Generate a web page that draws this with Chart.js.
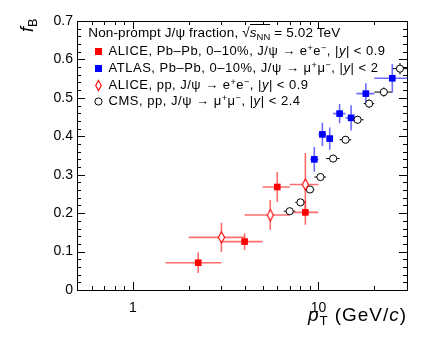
<!DOCTYPE html>
<html>
<head>
<meta charset="utf-8">
<script src="https://cdn.jsdelivr.net/npm/chart.js@4"></script>
<style>
  body { margin: 0; background: #fff; }
  #wrap { position: relative; width: 432px; height: 338px; font-family: 'Liberation Sans', Arial, Helvetica, sans-serif; color: #000; }
  canvas { position: absolute; left: 0; top: 0; }
  #legend { position: absolute; left: 88px; top: 25px; font-size: 13px; }
  #legend .row { position: relative; height: 16.7px; line-height: 16.7px; white-space: nowrap; }
  #legend .head { margin-bottom: 1.7px; font-size: 13.5px; }
  #legend .row svg { position: absolute; left: 5px; top: 2px; }
  #legend .txt { margin-left: 20.5px; }
  #legend .head .txt { margin-left: 0.3px; }
  sup, sub { font-size: 70%; line-height: 0; position: relative; vertical-align: baseline; }
  sup { top: -0.45em; }
  sub { top: 0.3em; }
  .ov { border-top: 1px solid #000; }
  #ytitle { position: absolute; left: 17px; top: 32px; transform-origin: 0 0; transform: rotate(-90deg); font-size: 18px; line-height: 20px; white-space: nowrap; }
  #xtitle { position: absolute; right: 25px; top: 305px; font-size: 19px; line-height: 19px; white-space: nowrap; }
</style>
</head>
<body>
<div id="wrap">
  <canvas id="fb" width="432" height="338"></canvas>
  <div id="legend">
    <div class="row head"><span class="txt" data-w="252">Non-prompt J/ψ fraction, √<span class="ov"><i>s</i><sub>NN</sub></span> = 5.02 TeV</span></div>
    <div class="row"><svg width="11" height="13"><rect x="2" y="3" width="7" height="7" fill="#ff0000"/></svg><span class="txt" data-w="277">ALICE, Pb–Pb, 0–10%, J/ψ → e<sup>+</sup>e<sup>−</sup>, |<i>y</i>| &lt; 0.9</span></div>
    <div class="row"><svg width="11" height="13"><rect x="2" y="3" width="7" height="7" fill="#0000ff"/></svg><span class="txt" data-w="270">ATLAS, Pb–Pb, 0–10%, J/ψ → μ<sup>+</sup>μ<sup>−</sup>, |<i>y</i>| &lt; 2</span></div>
    <div class="row"><svg width="11" height="13"><path d="M5.5 1.5 L8.3 6.5 L5.5 11.5 L2.7 6.5 Z" fill="#fff" stroke="#ff0000" stroke-width="1.1"/></svg><span class="txt" data-w="200">ALICE, pp, J/ψ → e<sup>+</sup>e<sup>−</sup>, |<i>y</i>| &lt; 0.9</span></div>
    <div class="row"><svg width="11" height="13"><circle cx="5.5" cy="6.5" r="3.6" fill="#fff" stroke="#000" stroke-width="1"/></svg><span class="txt" data-w="192">CMS, pp, J/ψ → μ<sup>+</sup>μ<sup>−</sup>, |<i>y</i>| &lt; 2.4</span></div>
  </div>
  <div id="ytitle"><i>f</i><sub>B</sub></div>
  <div id="xtitle"><span class="txt" data-w="99"><i>p</i><sub>T</sub> (GeV/<i>c</i>)</span></div>
</div>
<script>
// ALICE Pb-Pb 0-10%, J/psi -> ee
const alicePbX = [2.25, 4, 6, 8.5];
const alicePbXlo = [1.5, 3, 5, 7];
const alicePbXhi = [3, 5, 7, 10];
const alicePbY = [0.071, 0.126, 0.268, 0.202];
const alicePbErr = [0.027, 0.022, 0.039, 0.032];

// ATLAS Pb-Pb 0-10%, J/psi -> mumu
const atlasX = [9.5, 10.5, 11.5, 13, 15, 18, 25];
const atlasXlo = [9, 10, 11, 12, 14, 16, 20];
const atlasXhi = [10, 11, 12, 14, 16, 20, 30];
const atlasY = [0.340, 0.405, 0.394, 0.459, 0.448, 0.511, 0.551];
const atlasErr = [0.032, 0.030, 0.029, 0.025, 0.033, 0.027, 0.037];

// ALICE pp
const alicePpX = [3, 5.5, 8.5];
const alicePpXlo = [2, 4, 7];
const alicePpXhi = [4, 7, 10];
const alicePpY = [0.137, 0.195, 0.2745];
const alicePpErr = [0.038, 0.039, 0.082];

// CMS pp
const cmsX = [7, 8, 9, 10.25, 12, 14, 16.25, 18.75, 22.5, 27.5];
const cmsXlo = [6.5, 7.5, 8.5, 9.5, 11, 13, 15, 17.5, 20, 25];
const cmsXhi = [7.5, 8.5, 9.5, 11, 13, 15, 17.5, 20, 25, 30];
const cmsY = [0.205, 0.228, 0.2615, 0.294, 0.342, 0.391, 0.443, 0.485, 0.515, 0.576];
const cmsErr = [0.006, 0.006, 0.007, 0.007, 0.008, 0.009, 0.010, 0.011, 0.012, 0.015];

const xTickLabels = [1, 10];
const yTickLabels = [0, 0.1, 0.2, 0.3, 0.4, 0.5, 0.6, 0.7];

const tickFont = { family: "'Liberation Sans', Arial, Helvetica, sans-serif", size: 14 };

// stretch the legend / title text to the widths seen in the reference
document.querySelectorAll('.txt[data-w]').forEach(el => {
    const w = el.getBoundingClientRect().width;
    const n = el.textContent.length;
    el.style.letterSpacing = ((+el.dataset.w - w) / n) + 'px';
});

// narrow open diamond marker
const diamond = document.createElement('canvas');
diamond.width = 9; diamond.height = 13;
(function () {
    const c = diamond.getContext('2d');
    c.fillStyle = '#fff';
    c.strokeStyle = '#ff0000';
    c.lineWidth = 1.1;
    c.beginPath();
    c.moveTo(4.5, 1); c.lineTo(7.6, 6.5); c.lineTo(4.5, 12); c.lineTo(1.4, 6.5); c.closePath();
    c.fill(); c.stroke();
})();

function pts(xs, ys) {
    return xs.map((x, i) => ({ x: x, y: ys[i] }));
}

// error bars, drawn below markers
const errorBars = {
    id: 'errorBars',
    beforeDatasetsDraw(chart) {
        const ctx = chart.ctx;
        const xs = chart.scales.x, ys = chart.scales.y;
        ctx.save();
        chart.data.datasets.forEach(ds => {
            ctx.strokeStyle = ds.errColor;
            ctx.lineWidth = ds.errWidth;
            ds.data.forEach((p, i) => {
                const px = xs.getPixelForValue(p.x);
                const py = ys.getPixelForValue(p.y);
                ctx.beginPath();
                ctx.moveTo(xs.getPixelForValue(ds.xLo[i]), py);
                ctx.lineTo(xs.getPixelForValue(ds.xHi[i]), py);
                ctx.moveTo(px, ys.getPixelForValue(p.y - ds.yErr[i]));
                ctx.lineTo(px, ys.getPixelForValue(p.y + ds.yErr[i]));
                ctx.stroke();
            });
        });
        ctx.restore();
    }
};

// ROOT-style frame with inward ticks on all four sides
const frame = {
    id: 'frame',
    afterDraw(chart) {
        const ctx = chart.ctx;
        const a = chart.chartArea;
        const xs = chart.scales.x, ys = chart.scales.y;
        ctx.save();
        ctx.strokeStyle = '#000';
        ctx.lineWidth = 1;
        ctx.strokeRect(Math.round(a.left) + 0.5, Math.round(a.top) + 0.5, Math.round(a.right - a.left), Math.round(a.bottom - a.top));
        ctx.beginPath();
        const xMinor = [0.6, 0.7, 0.8, 0.9, 2, 3, 4, 5, 6, 7, 8, 9, 20];
        const xt = (v, len) => {
            const px = Math.round(xs.getPixelForValue(v)) + 0.5;
            ctx.moveTo(px, a.bottom); ctx.lineTo(px, a.bottom - len);
            ctx.moveTo(px, a.top); ctx.lineTo(px, a.top + len);
        };
        xMinor.forEach(v => xt(v, 4));
        xTickLabels.forEach(v => xt(v, 8));
        for (let k = 0; k <= 35; k++) {
            const v = k * 0.02;
            const len = (k % 5 === 0) ? 8 : 4;
            const py = Math.round(ys.getPixelForValue(v)) + 0.5;
            ctx.moveTo(a.left, py); ctx.lineTo(a.left + len, py);
            ctx.moveTo(a.right, py); ctx.lineTo(a.right - len, py);
        }
        ctx.stroke();
        ctx.restore();
    }
};

const ctx = document.getElementById('fb').getContext('2d');
const chart = new Chart(ctx, {
    type: 'scatter',
    data: {
        datasets: [
            {
                label: 'ALICE pp',
                data: pts(alicePpX, alicePpY),
                xLo: alicePpXlo, xHi: alicePpXhi, yErr: alicePpErr,
                errColor: 'rgba(255, 60, 60, 0.75)', errWidth: 1.6,
                pointStyle: diamond
            },
            {
                label: 'CMS pp',
                data: pts(cmsX, cmsY),
                xLo: cmsXlo, xHi: cmsXhi, yErr: cmsErr,
                errColor: '#000', errWidth: 1,
                pointStyle: 'circle', pointRadius: 3.6,
                backgroundColor: '#fff', borderColor: '#000', borderWidth: 1
            },
            {
                label: 'ALICE Pb-Pb',
                data: pts(alicePbX, alicePbY),
                xLo: alicePbXlo, xHi: alicePbXhi, yErr: alicePbErr,
                errColor: 'rgba(255, 60, 60, 0.75)', errWidth: 1.6,
                pointStyle: 'rect', pointRadius: 4.7,
                backgroundColor: '#ff0000', borderColor: '#ff0000', borderWidth: 0
            },
            {
                label: 'ATLAS Pb-Pb',
                data: pts(atlasX, atlasY),
                xLo: atlasXlo, xHi: atlasXhi, yErr: atlasErr,
                errColor: 'rgba(60, 60, 255, 0.75)', errWidth: 1.6,
                pointStyle: 'rect', pointRadius: 4.7,
                backgroundColor: '#0000ff', borderColor: '#0000ff', borderWidth: 0
            }
        ]
    },
    options: {
        responsive: false,
        animation: false,
        layout: { padding: { top: 21, right: 25, left: 0, bottom: 0 } },
        plugins: { legend: { display: false }, tooltip: { enabled: false } },
        scales: {
            x: {
                type: 'logarithmic',
                min: 0.5,
                max: 30,
                grid: { display: false, drawTicks: false },
                border: { display: false },
                afterBuildTicks: s => { s.ticks = xTickLabels.map(v => ({ value: v })); },
                afterFit: s => { s.height = 48; },
                ticks: {
                    font: tickFont, color: '#000', padding: 10,
                    maxRotation: 0, autoSkip: false,
                    callback: v => String(v)
                }
            },
            y: {
                min: 0,
                max: 0.7,
                grid: { display: false, drawTicks: false },
                border: { display: false },
                afterBuildTicks: s => { s.ticks = yTickLabels.map(v => ({ value: v })); },
                afterFit: s => { s.width = 77; },
                ticks: {
                    font: tickFont, color: '#000', padding: 4,
                    callback: v => String(Math.round(v * 10) / 10)
                }
            }
        }
    },
    plugins: [errorBars, frame]
});
</script>
</body>
</html>
